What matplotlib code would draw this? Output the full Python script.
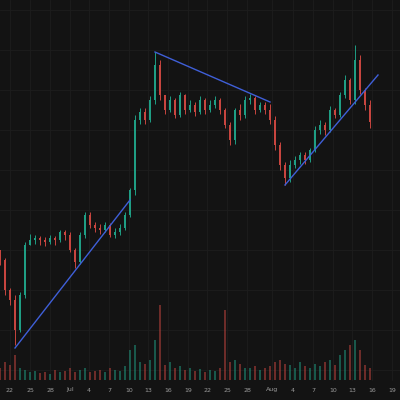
import matplotlib
matplotlib.use("Agg")
import matplotlib.pyplot as plt

opens_first = 150
closes = [140,110,100,70,105,155,160,162,160,158,
          162,160,168,165,150,138,165,185,175,172,
          170,175,165,168,172,185,210,280,288,280,
          300,335,305,290,300,285,305,290,295,288,
          300,290,295,300,290,275,260,290,285,300,
          302,290,295,290,280,255,235,222,235,240,
          245,240,250,270,275,270,290,285,305,320,
          300,340,310,295,278]
highs = [150,142,112,105,108,158,166,165,164,163,
         165,164,170,170,168,152,168,188,188,178,
         176,178,177,172,176,188,212,285,292,292,
         304,348,340,298,304,302,308,306,300,298,
         304,302,300,304,302,292,278,292,296,304,
         306,304,298,298,296,284,258,238,240,244,
         248,248,252,274,280,278,294,292,308,325,
         322,355,345,312,300]
lows = [135,105,95,55,68,102,155,156,155,154,
        156,155,158,160,148,132,136,162,172,168,
        166,168,163,162,165,170,183,205,276,276,
        278,296,300,286,288,282,283,286,288,284,
        286,286,288,292,286,272,255,256,280,282,
        296,286,288,286,276,250,230,215,218,232,
        236,236,238,248,266,265,268,282,283,302,
        296,296,306,290,272]
volumes = [12,18,15,25,12,10,8,9,7,8,
           6,10,8,9,12,8,10,12,8,9,
           10,8,12,10,9,14,30,35,18,16,
           20,40,75,15,18,12,14,10,12,9,
           11,8,10,9,12,70,18,20,16,12,
           12,14,10,12,14,18,20,16,15,12,
           18,14,12,16,14,18,20,15,25,30,
           35,40,30,15,12]
tick_labels = ["22","25","28","Jul","4","7","10","13","16","19",
               "22","25","28","Aug","4","7","10","13","16","19"]
tick_pos = [10,30,50,70,89,109,129,148,168,188,207,227,247,272,293,313,333,352,372,392]
trend_lines = [((15,52),(130,200)), ((155,348),(270,298)), ((285,215),(378,325))]

fig = plt.figure(figsize=(4,4), dpi=100)
fig.patch.set_facecolor("#131313")
ax = fig.add_axes([0,0,1,1])
ax.set_facecolor("#131313")
ax.set_xlim(0,400); ax.set_ylim(0,400)
for p in tick_pos:
    ax.axvline(p, color="#1d1d1d", lw=0.6, zorder=0)
for yy in range(30,400,40):
    ax.axhline(yy, color="#1d1d1d", lw=0.6, zorder=0)

green, red = "#1f9e84", "#c8453f"
prev = opens_first
for i,(c,h,l,v) in enumerate(zip(closes,highs,lows,volumes)):
    x = i*5
    o = prev
    col = green if c >= o else red
    ax.vlines(x, min(l,o,c), max(h,o,c), color=col, lw=0.7, zorder=3)
    ax.bar(x, abs(c-o) if abs(c-o)>0.5 else 0.8, bottom=min(o,c), width=2.4, color=col, zorder=3)
    ax.bar(x, v, bottom=20, width=1.6, color=col, alpha=0.5, zorder=2)
    prev = c
for (a,b) in trend_lines:
    ax.plot([a[0],b[0]],[a[1],b[1]], color="#3f5fd8", lw=1, zorder=4)
ax.axhspan(0,19,color="#131313",zorder=5)
for p,t in zip(tick_pos,tick_labels):
    ax.text(p,10,t,color="#9a9a9a",fontsize=4.5,ha="center",va="center",zorder=6)
ax.axis("off")
fig.savefig("out.png", dpi=100, facecolor=fig.get_facecolor())
